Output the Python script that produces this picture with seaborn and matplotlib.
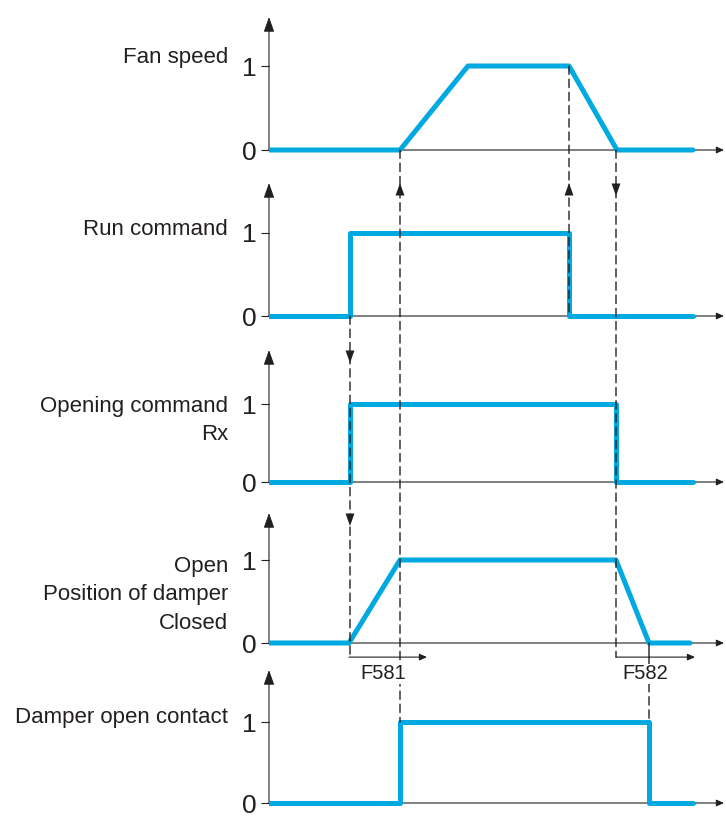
import pandas as pd
import seaborn as sns
import matplotlib.pyplot as plt
from matplotlib.patches import ConnectionPatch

sns.set_style('white')
plt.rcParams['font.family'] = ['Liberation Sans', 'DejaVu Sans']

# time in arbitrary units, levels are 0 / 1
fan_t = [0, 131, 199, 300, 348, 424]
fan_y = [0, 0, 1, 1, 0, 0]
run_t = [0, 81, 81, 300, 300, 424]
run_y = [0, 0, 1, 1, 0, 0]
rx_t = [0, 81, 81, 347, 347, 424]
rx_y = [0, 0, 1, 1, 0, 0]
damper_t = [0, 80, 131, 347, 380, 421]
damper_y = [0, 0, 1, 1, 0, 0]
contact_t = [0, 131, 131, 380, 380, 424]
contact_y = [0, 0, 1, 1, 0, 0]

labels = ['Fan speed', 'Run command', 'Opening command\nRx',
          'Open\nPosition of damper\nClosed', 'Damper open contact']
yticks = [0, 1]
timer_names = ['F581', 'F582']
timer_start = [damper_t[1], rx_t[3]]
timer_end = [158, 426]
timer_label_t = [114, 376]

blue = '#00a9e0'
ink = '#231f20'
W, H = 726, 821

# panel layout in pixels: (arrow tip, level 1, level 0), label height in data units
panel_px = [(17, 66, 150), (183, 233, 316), (350, 404, 482), (513, 560, 643), (670, 722, 803)]
label_y = [1.10, 1.04, 0.79, 0.58, 1.05]

fig = plt.figure(figsize=(W / 100, H / 100), dpi=100)

big_head = '-|>,head_length=0.9,head_width=0.32'
small_head = '-|>,head_length=0.45,head_width=0.2'

signals = [(fan_t, fan_y), (run_t, run_y), (rx_t, rx_y),
           (damper_t, damper_y), (contact_t, contact_y)]
axes = []
units = []
for (tip, one, zero), (t, y), label, ly in zip(panel_px, signals, labels, label_y):
    unit = zero - one
    bot = zero + 0.15 * unit
    ax = fig.add_axes([269 / W, 1 - bot / H, (W - 269) / W, (bot - tip) / H])
    df = pd.DataFrame({'t': t, 'level': y})
    sns.lineplot(data=df, x='t', y='level', ax=ax, color=blue, lw=3.6,
                 sort=False, estimator=None, zorder=3)
    ax.set_xlim(0, 457)
    ax.set_ylim(-0.15, (zero - tip) / unit)
    ax.set_xlabel('')
    ax.set_ylabel('')
    for s in ax.spines.values():
        s.set_visible(False)
    ax.set_xticks([])
    ax.set_yticks(yticks)
    ax.tick_params(axis='y', length=6, width=0.8, labelsize=19, pad=3,
                   colors=ink, left=True)
    ax.patch.set_alpha(0)
    top = ax.get_ylim()[1]
    # y axis and x axis with arrow heads
    ax.annotate('', xy=(0, top), xytext=(0, 0), annotation_clip=False, zorder=1,
                arrowprops=dict(arrowstyle=big_head, color=ink, lw=0.8,
                                mutation_scale=10, shrinkA=0, shrinkB=0))
    ax.annotate('', xy=(455, 0), xytext=(0, 0), annotation_clip=False, zorder=1,
                arrowprops=dict(arrowstyle=small_head, color=ink, lw=0.8,
                                mutation_scale=10, shrinkA=0, shrinkB=0))
    ax.annotate(label, xy=(0, ly), xycoords=('axes fraction', 'data'),
                xytext=(-41, 0), textcoords='offset pixels', linespacing=1.45,
                ha='right', va='center', fontsize=16, color=ink)
    axes.append(ax)
    units.append(unit)

timer_y = -0.17
dash = (0, (6, 3.5))


def link(t, a, ya, b, yb, ls=dash):
    con = ConnectionPatch(xyA=(t, ya), coordsA=axes[a].transData,
                          xyB=(t, yb), coordsB=axes[b].transData,
                          color=ink, lw=1.0, linestyle=ls, zorder=5)
    fig.add_artist(con)


link(damper_t[2], 0, 0, 4, 1)
link(run_t[3], 0, 1, 1, 0)
link(rx_t[3], 0, 0, 3, timer_y)
link(run_t[1], 1, 0, 3, timer_y)
link(contact_t[3], 3, timer_y, 4, 1)
link(contact_t[3], 3, 0, 3, timer_y, ls='-')


def head(i, t, up):
    top = axes[i].get_ylim()[1]
    d = 13 / units[i]
    start, end = (top - d, top) if up else (top, top - d)
    axes[i].annotate('', xy=(t, end), xytext=(t, start), annotation_clip=False, zorder=6,
                     arrowprops=dict(arrowstyle=big_head, color=ink, lw=0,
                                     mutation_scale=10, shrinkA=0, shrinkB=0))


# arrow heads on the dashed links
head(1, damper_t[2], True)
head(1, run_t[3], True)
head(1, rx_t[3], False)
head(2, run_t[1], False)
head(3, run_t[1], False)

# F581 / F582 delay markers
for name, t0, t1, tl in zip(timer_names, timer_start, timer_end, timer_label_t):
    axes[3].annotate('', xy=(t1, timer_y), xytext=(t0, timer_y), annotation_clip=False,
                     arrowprops=dict(arrowstyle=small_head, color=ink, lw=0.8,
                                     mutation_scale=10, shrinkA=0, shrinkB=0))
    fig.text(tl, -0.37, name, transform=axes[3].transData, ha='center', va='center',
             fontsize=14.5, color=ink, zorder=7,
             bbox=dict(facecolor='white', edgecolor='none', pad=0.5))

plt.savefig('out.png', dpi=100)
